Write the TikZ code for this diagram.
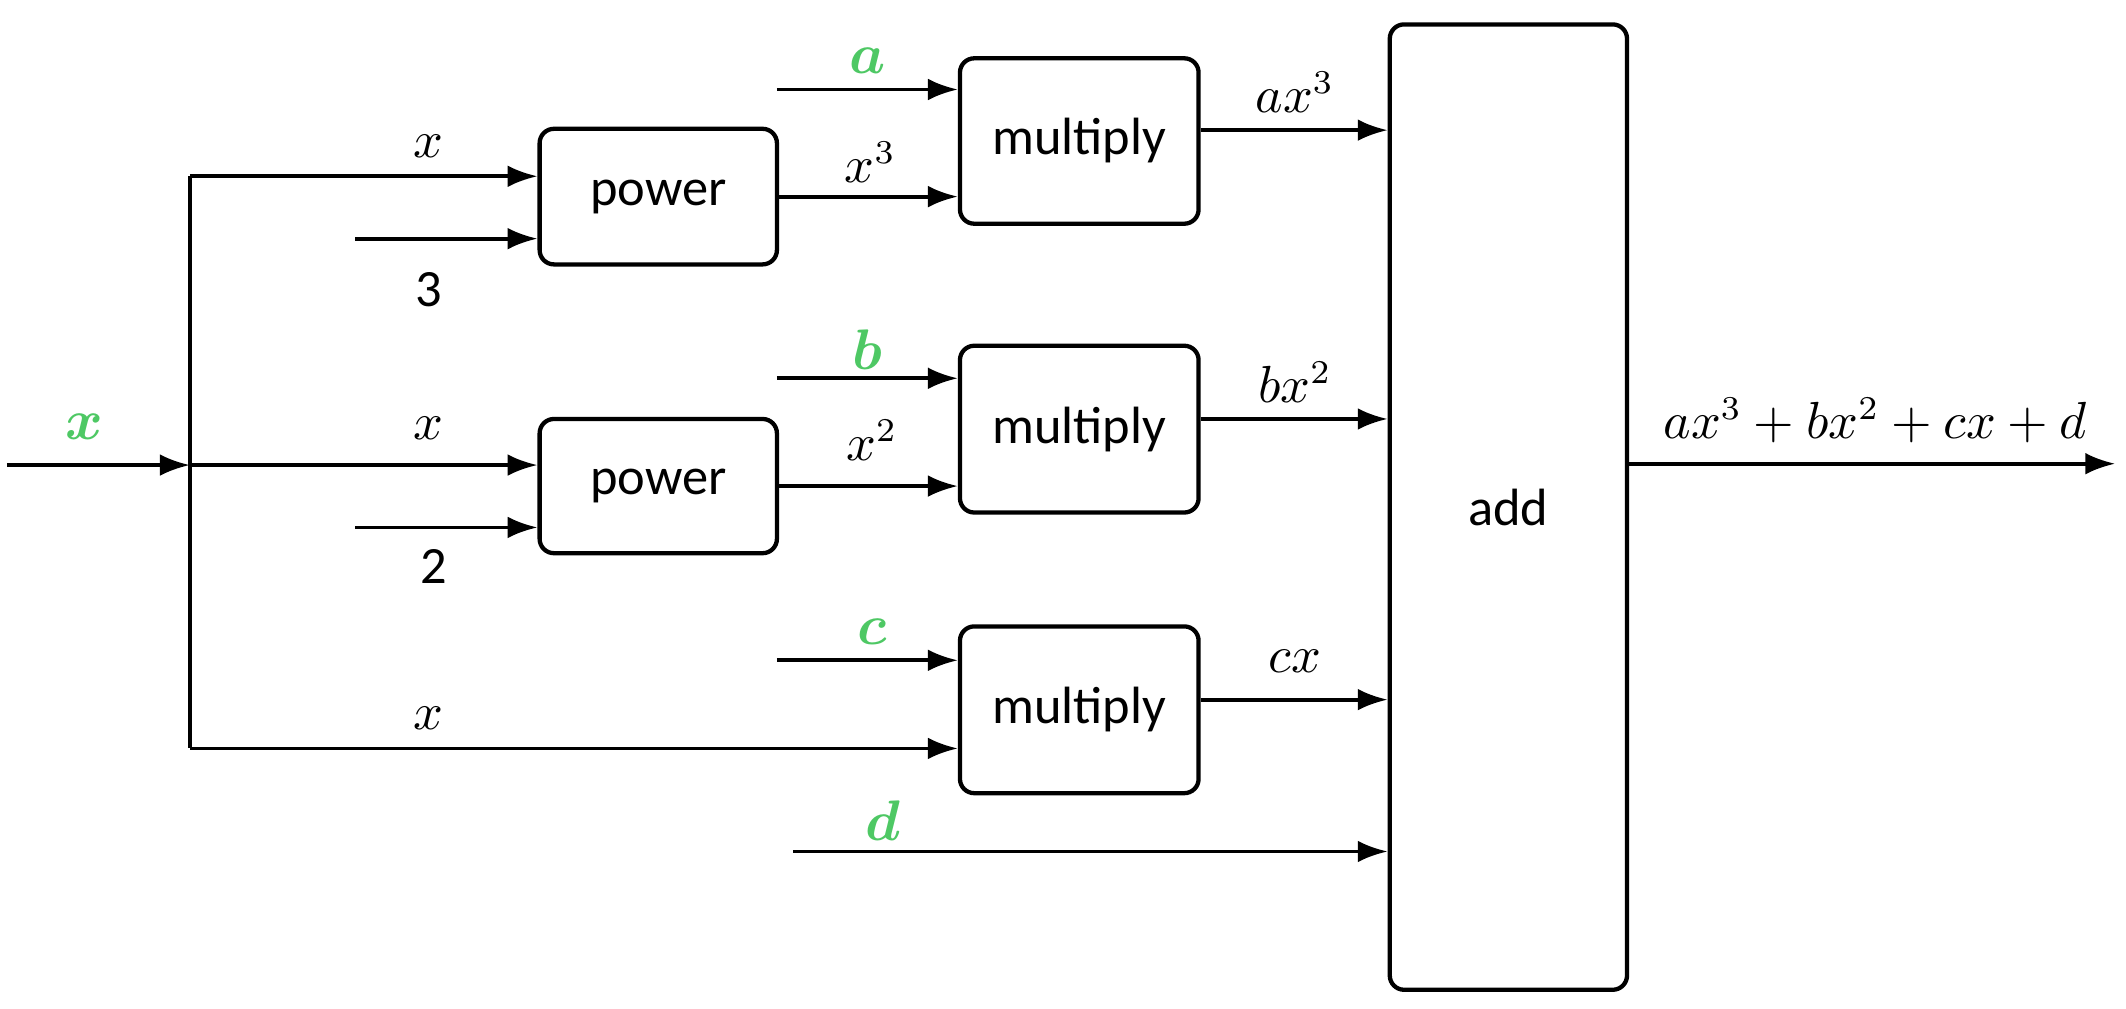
\documentclass[tikz,border=0pt]{standalone}
\usepackage{fontspec}
\usepackage{amsmath,amssymb}
\setsansfont{Carlito}
\usetikzlibrary{arrows.meta}
\definecolor{grn}{RGB}{78,200,100}
\begin{document}
\begin{tikzpicture}[x=0.1mm,y=-0.1mm,
  box/.style={draw,line width=0.9pt,rounded corners=3pt,font=\sffamily\fontsize{11}{13}\selectfont},
  arr/.style={line width=0.8pt,-{Latex[length=2.2mm,width=1.6mm]}},
  lab/.style={font=\fontsize{10.5}{12}\selectfont},
  nlab/.style={font=\sffamily\fontsize{11}{13}\selectfont},
  glab/.style={font=\fontsize{11.5}{13}\selectfont,text=grn}]
\useasboundingbox (0,0) rectangle (1568,744);
\node[box,minimum width=17.5mm,minimum height=10mm] (p1) at (485.5,145) {power};
\node[box,minimum width=17.5mm,minimum height=9.9mm] (p2) at (485.5,358.5) {power};
\node[box,minimum width=17.6mm,minimum height=12.2mm] (m1) at (796,104) {multiply};
\node[box,minimum width=17.6mm,minimum height=12.3mm] (m2) at (796,316.5) {multiply};
\node[box,minimum width=17.6mm,minimum height=12.3mm] (m3) at (796,523.5) {multiply};
\node[box,minimum width=17.5mm,minimum height=71.2mm] (add) at (1112.5,374) {add};
\coordinate (in) at (5,343);
\coordinate (j) at (140,343);
\coordinate (jt) at (140,130);
\coordinate (jb) at (140,552);
\coordinate (s3) at (262,176);
\coordinate (s2) at (262,389);
\coordinate (sa) at (573,66);
\coordinate (sb) at (573,279);
\coordinate (sc) at (573,487);
\coordinate (sd) at (585,628);
\coordinate (out) at (1560,342);
\draw[arr] (in) -- (j);
\draw[line width=0.8pt] (jt) -- (jb);
\draw[arr] (jt) -- (jt -| p1.west);
\draw[arr] (s3) -- (s3 -| p1.west);
\draw[arr] (j) -- (j -| p2.west);
\draw[arr] (s2) -- (s2 -| p2.west);
\draw[arr] (jb) -- (jb -| m3.west);
\draw[arr] (sa) -- (sa -| m1.west);
\draw[arr] (sb) -- (sb -| m2.west);
\draw[arr] (sc) -- (sc -| m3.west);
\draw[arr] (p1.east) -- (p1.east -| m1.west);
\draw[arr] (p2.east) -- (p2.east -| m2.west);
\draw[arr] ([yshift=0.8mm]m1.east) -- ([yshift=0.8mm]m1.east -| add.west);
\draw[arr] ([yshift=0.75mm]m2.east) -- ([yshift=0.75mm]m2.east -| add.west);
\draw[arr] ([yshift=0.75mm]m3.east) -- ([yshift=0.75mm]m3.east -| add.west);
\draw[arr] (sd) -- (sd -| add.west);
\draw[arr] (add.east |- out) -- (out);
\node[glab] (lx) at (62,315) {$\boldsymbol{x}$};
\node[lab] (l1) at (316,108) {$x$};
\node[nlab] (l3) at (316,214) {3};
\node[lab] (l2) at (316,316) {$x$};
\node[nlab] (l22) at (320,418) {2};
\node[lab] (l4) at (316,530) {$x$};
\node[glab] (la) at (640,45) {$\boldsymbol{a}$};
\node[glab] (lb) at (640,258) {$\boldsymbol{b}$};
\node[glab] (lc) at (643,466) {$\boldsymbol{c}$};
\node[glab] (ld) at (651,605) {$\boldsymbol{d}$};
\node[lab] (lx3) at (642,120) {$x^3$};
\node[lab] (lx2) at (643,325) {$x^2$};
\node[lab] (lax) at (955,68) {$ax^3$};
\node[lab] (lbx) at (955,282) {$bx^2$};
\node[lab] (lcx) at (955,488) {$cx$};
\node[lab] (lout) at (1383,310) {$ax^3+bx^2+cx+d$};
\end{tikzpicture}
\end{document}
